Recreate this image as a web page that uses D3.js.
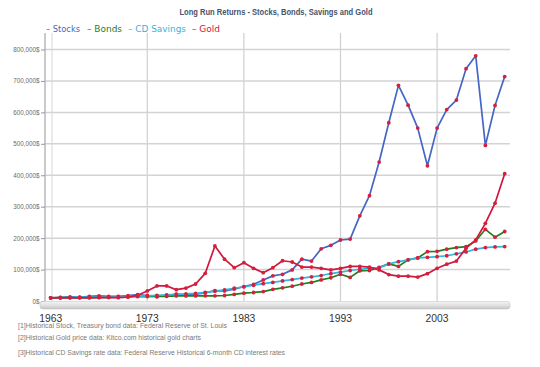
<!DOCTYPE html>
<html><head><meta charset="utf-8">
<script src="https://cdn.jsdelivr.net/npm/d3@7"></script>
<style>body{margin:0;background:#fff}svg{display:block}</style>
</head><body>
<script>
const years = [1963,1964,1965,1966,1967,1968,1969,1970,1971,1972,
  1973,1974,1975,1976,1977,1978,1979,1980,1981,1982,
  1983,1984,1985,1986,1987,1988,1989,1990,1991,1992,
  1993,1994,1995,1996,1997,1998,1999,2000,2001,2002,
  2003,2004,2005,2006,2007,2008,2009,2010];
const stocks = [10000,11500,13000,12000,14500,16000,14500,15000,17000,20000,
  17500,13500,18000,21500,20500,22000,26000,33000,32000,38000,
  46000,53000,67000,80000,85000,99000,133000,127000,166000,177000,
  194000,197000,271000,335000,442000,567000,686000,623000,550000,430000,
  550000,609000,639000,739000,780000,495000,622000,714000];
const bonds = [10000,10500,10800,11000,11200,11500,11300,12500,13500,14000,
  14000,14500,15000,16000,16200,16300,16500,16500,17500,21000,
  25000,27000,30000,37000,42000,47000,54000,59000,67000,74000,
  85000,75000,96000,97000,107000,118000,110000,131000,137000,157000,
  158000,165000,170000,173000,191000,228000,203000,221000];
const cdSavings = [10000,10400,10800,11300,11800,12400,13100,13900,14700,15500,
  16500,18000,19500,21000,22500,24500,27500,31000,35500,40500,
  45000,50000,55000,59000,64000,68000,73000,77000,81000,87000,
  92000,97000,101000,104000,106000,118000,125000,131000,137000,139000,
  141000,144000,150000,156000,165000,170000,172000,173000];
const gold = [10000,10000,10000,10000,10000,11000,11500,10500,12500,18000,
  32000,48000,48000,36000,41000,54000,88000,175000,133000,106000,
  122000,104000,90000,106000,128000,124000,108000,108000,104000,99000,
  104000,110000,110000,108000,99000,84000,79000,79000,76000,87000,
  104000,117000,127000,168000,194000,247000,311000,405000];
const seriesNames = ["Stocks","Bonds","CD Savings","Gold"];
const seriesColors = ["#4566c4","#1d7f1d","#33b5de","#d3163f"];
const yTickValues = [0,100000,200000,300000,400000,500000,600000,700000,800000];
const yTickLabels = ["0$","100,000$","200,000$","300,000$","400,000$","500,000$","600,000$","700,000$","800,000$"];
const xTickYears = [1963,1973,1983,1993,2003];
const gridYears = [1973,1983,1993,2003];
const titleText = "Long Run Returns - Stocks, Bonds, Savings and Gold";
const footnotes = ["[1]Historical Stock, Treasury bond data: Federal Reserve of St. Louis",
  "[2]Historical Gold price data: Kitco.com historical gold charts",
  "[3]Historical CD Savings rate data: Federal Reserve Historical 6-month CD interest rates"];

const W = 540, H = 367;
const svg = d3.select("body").append("svg").attr("width", W).attr("height", H);
const x = d3.scaleLinear().domain([1963, 2010]).range([50.7, 504.7]);
const y = d3.scaleLinear().domain([0, 800000]).range([301, 49.5]);

// gradient for floor
const defs = svg.append("defs");
const g1 = defs.append("linearGradient").attr("id","floor").attr("x1",0).attr("y1",0).attr("x2",0).attr("y2",1);
g1.append("stop").attr("offset","0%").attr("stop-color","#f4f4f4");
g1.append("stop").attr("offset","50%").attr("stop-color","#e2e2e2");
g1.append("stop").attr("offset","100%").attr("stop-color","#c4c4c4");

// title
svg.append("text").attr("x", 276).attr("y", 15).attr("text-anchor","middle")
  .attr("font-family","Liberation Sans, Arial, sans-serif").attr("font-weight","bold")
  .attr("font-size", 8.3).attr("fill","#46536e").attr("textLength",193).attr("lengthAdjust","spacingAndGlyphs")
  .text(titleText);

// legend
const legX = [46, 87, 128, 192], legW = [34, 35, 58, 28];
seriesNames.forEach((n,i)=>{
  svg.append("text").attr("x", legX[i]).attr("y", 31.5)
    .attr("font-family","DejaVu Sans, Verdana, sans-serif").attr("font-size", 9.2)
    .attr("fill", seriesColors[i]).attr("textLength", legW[i]).attr("lengthAdjust","spacingAndGlyphs")
    .text("\u2013 " + n);
});

// vertical gridlines
svg.append("g").selectAll("line").data(gridYears).join("line")
  .attr("x1", d=>x(d)).attr("x2", d=>x(d)).attr("y1", 33).attr("y2", 301)
  .attr("stroke","#cfcfcf").attr("stroke-width",1.2);

// horizontal gridlines
svg.append("g").selectAll("line").data(yTickValues.slice(1)).join("line")
  .attr("x1", 44).attr("x2", 510).attr("y1", d=>y(d)).attr("y2", d=>y(d))
  .attr("stroke","#d3d3d3").attr("stroke-width",1.5);

// left wall
svg.append("line").attr("x1",45).attr("x2",45).attr("y1",33).attr("y2",302).attr("stroke","#bdbdbd").attr("stroke-width",1.6);
svg.append("line").attr("x1",52).attr("x2",52).attr("y1",33).attr("y2",301).attr("stroke","#d6d6d6").attr("stroke-width",1);

// y axis labels and ticks
const yAxis = d3.axisLeft(y).tickValues(yTickValues).tickFormat((d,i)=>yTickLabels[i]).tickSize(4).tickPadding(1.5);
const ya = svg.append("g").attr("transform","translate(45,0)").call(yAxis);
ya.select(".domain").remove();
ya.selectAll(".tick line").attr("stroke","#999");
ya.selectAll(".tick text").attr("font-family","Liberation Sans, Arial, sans-serif").attr("font-size",6.3).attr("fill","#6a6a6a");

// floor
svg.append("rect").attr("x",40).attr("y",301.5).attr("width",470).attr("height",7.5).attr("rx",2.5)
  .attr("fill","url(#floor)").attr("stroke","#c8c8c8").attr("stroke-width",0.6);

// x axis labels
svg.append("g").selectAll("text").data(xTickYears).join("text")
  .attr("x", d=>x(d)).attr("y", 321.5).attr("text-anchor","middle")
  .attr("font-family","Liberation Sans, Arial, sans-serif").attr("font-size",10.3).attr("fill","#333")
  .text(d=>d);

// series lines
const allSeries = [stocks, bonds, cdSavings, gold];
const line = d3.line().x((d,i)=>x(years[i])).y(d=>y(d));
allSeries.forEach((s,k)=>{
  svg.append("path").datum(s).attr("d", line).attr("fill","none")
    .attr("stroke", seriesColors[k]).attr("stroke-width",1.7).attr("stroke-linejoin","round");
  svg.append("g").selectAll("circle").data(s).join("circle")
    .attr("cx",(d,i)=>x(years[i])).attr("cy",d=>y(d)).attr("r",1.9)
    .attr("fill","#d4203c");
});

// footnotes
const fnY = [328, 340, 354.5], fnW = [209, 183, 267];
footnotes.forEach((t,i)=>{
  svg.append("text").attr("x",18).attr("y",fnY[i])
    .attr("font-family","Liberation Sans, Arial, sans-serif").attr("font-size",6.6).attr("fill","#7a7a7a")
    .attr("textLength",fnW[i]).attr("lengthAdjust","spacingAndGlyphs").text(t);
});
</script>
</body></html>
